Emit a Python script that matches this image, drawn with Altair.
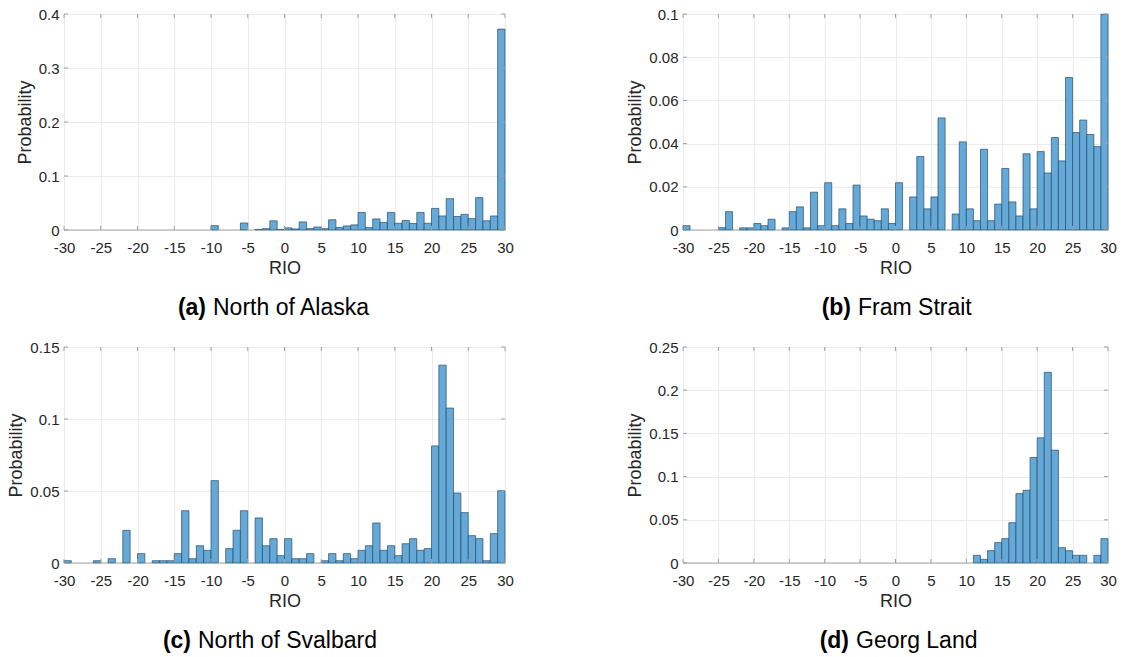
import altair as alt
import pandas as pd

# ---------------- data ----------------
bins = list(range(-30, 30))  # left edges of the 1-unit RIO bins

north_alaska = [0, 0, 0, 0, 0, 0, 0, 0, 0, 0,
                0, 0, 0, 0, 0, 0, 0, 0, 0, 0,
                0.008, 0, 0, 0, 0.013, 0, 0.001, 0.0025, 0.017, 0.001,
                0.004, 0.002, 0.015, 0.0025, 0.0055, 0.0025, 0.019, 0.0045, 0.0075, 0.0095,
                0.0325, 0.0045, 0.0205, 0.014, 0.0325, 0.0125, 0.0175, 0.012, 0.0325, 0.0125,
                0.04, 0.026, 0.058, 0.025, 0.029, 0.021, 0.06, 0.017, 0.026, 0.372]

fram_strait = [0.002, 0, 0, 0, 0, 0.0011, 0.0085, 0, 0.001, 0.001,
               0.003, 0.002, 0.005, 0, 0.001, 0.0085, 0.0107, 0.001, 0.0175, 0.002,
               0.0219, 0.002, 0.0098, 0.003, 0.0208, 0.0065, 0.005, 0.0043, 0.0098, 0.003,
               0.0219, 0, 0.0153, 0.034, 0.0098, 0.0153, 0.0519, 0, 0.0074, 0.0408,
               0.0098, 0.0043, 0.0374, 0.0043, 0.012, 0.0285, 0.013, 0.0065, 0.0353, 0.0098,
               0.0363, 0.0264, 0.0428, 0.032, 0.0706, 0.0451, 0.0509, 0.0442, 0.0386, 0.0999]

north_svalbard = [0.0016, 0, 0, 0, 0.0016, 0, 0.003, 0, 0.0227, 0,
                  0.0065, 0, 0.0016, 0.0016, 0.0016, 0.0065, 0.0363, 0.003, 0.012, 0.0088,
                  0.0572, 0, 0.01, 0.0227, 0.0363, 0, 0.0313, 0.012, 0.0169, 0.0051,
                  0.0169, 0.003, 0.003, 0.0065, 0, 0.0016, 0.0065, 0.0016, 0.0065, 0.003,
                  0.0088, 0.012, 0.0278, 0.0088, 0.012, 0.0051, 0.0134, 0.0169, 0.0088, 0.01,
                  0.0813, 0.1374, 0.1076, 0.0486, 0.035, 0.019, 0.0169, 0.0016, 0.0204, 0.0502]

georg_land = [0, 0, 0, 0, 0, 0, 0, 0, 0, 0,
              0, 0, 0, 0, 0, 0, 0, 0, 0, 0,
              0, 0, 0, 0, 0, 0, 0, 0, 0, 0,
              0, 0, 0, 0, 0, 0, 0, 0, 0, 0,
              0, 0.0089, 0.0042, 0.0143, 0.0236, 0.0282, 0.0467, 0.0803, 0.0842, 0.1221,
              0.1449, 0.2207, 0.1306, 0.0178, 0.0143, 0.0089, 0.0089, 0, 0.0089, 0.0282]

x_ticks = list(range(-30, 31, 5))
y_ticks_a = [0, 0.1, 0.2, 0.3, 0.4]
y_ticks_b = [0, 0.02, 0.04, 0.06, 0.08, 0.1]
y_ticks_c = [0, 0.05, 0.1, 0.15]
y_ticks_d = [0, 0.05, 0.1, 0.15, 0.2, 0.25]

tags = ["(a)", "(b)", "(c)", "(d)"]
names = ["North of Alaska", "Fram Strait", "North of Svalbard", "Georg Land"]

# ---------------- style ----------------
FONT = "Liberation Sans"
FRAME = "#a0a0a0"
TXT = "#262626"
FILL = "#64a9d8"
EDGE = "#2a4d66"
W1, W2, H = 441, 425, 216
LABEL_EXPR = "'' + datum.value"


def panel(values, yticks, W, tag, name, bold_right, text_left):
    df = pd.DataFrame({"bin_start": bins, "prob": values})
    xscale = alt.Scale(domain=[-30, 30], nice=False, zero=False)
    yscale = alt.Scale(domain=[0, yticks[-1]], nice=False)
    xaxis = alt.Axis(values=x_ticks, title="RIO", labelFlush=False,
                     labelOverlap=False, labelExpr=LABEL_EXPR, ticks=False,
                     domain=False, grid=True, gridColor="#ebebeb",
                     labelFontSize=15, labelColor=TXT, labelFont=FONT,
                     labelPadding=10, titleFont=FONT, titleFontSize=18,
                     titleColor=TXT, titleFontWeight="normal", titlePadding=4)
    yaxis = alt.Axis(values=yticks, title="Probability", labelFlush=False,
                     labelOverlap=False, labelExpr=LABEL_EXPR, ticks=False,
                     domain=False, grid=True, gridColor="#ebebeb",
                     labelFontSize=15, labelColor=TXT, labelFont=FONT,
                     labelPadding=5, titleFont=FONT, titleFontSize=18,
                     titleColor=TXT, titleFontWeight="normal",
                     titlePadding=4)

    bars = alt.Chart(df).transform_calculate(
        bin_end="datum.bin_start + 1"
    ).mark_rect(fill=FILL, strokeWidth=0.7).encode(
        x=alt.X("bin_start:Q", scale=xscale, axis=xaxis),
        x2="bin_end:Q",
        y=alt.Y("prob:Q", scale=yscale, axis=yaxis),
        y2=alt.datum(0),
        stroke=alt.condition("datum.prob > 0", alt.value(EDGE), alt.value("#b0b0b0")),
    )

    xt = pd.DataFrame({"bin_start": x_ticks})
    yt = pd.DataFrame({"prob": yticks})
    tick_style = dict(color=FRAME, strokeWidth=1)
    xb = alt.Chart(xt).mark_rule(**tick_style).encode(
        x=alt.X("bin_start:Q", scale=xscale, axis=xaxis), y=alt.value(H), y2=alt.value(H - 4))
    xtp = alt.Chart(xt).mark_rule(**tick_style).encode(
        x=alt.X("bin_start:Q", scale=xscale, axis=xaxis), y=alt.value(0), y2=alt.value(4))
    yl = alt.Chart(yt).mark_rule(**tick_style).encode(
        y=alt.Y("prob:Q", scale=yscale, axis=yaxis), x=alt.value(0), x2=alt.value(4))
    yr = alt.Chart(yt).mark_rule(**tick_style).encode(
        y=alt.Y("prob:Q", scale=yscale, axis=yaxis), x=alt.value(W), x2=alt.value(W - 4))

    cap = pd.DataFrame({"tag": [tag], "name": [name]})
    c1 = alt.Chart(cap).mark_text(align="right", baseline="middle", font=FONT,
                                  fontSize=23, fontWeight="bold", color="black").encode(
        text="tag:N", x=alt.value(bold_right), y=alt.value(H + 78))
    c2 = alt.Chart(cap).mark_text(align="left", baseline="middle", font=FONT,
                                  fontSize=23, color="black").encode(
        text="name:N", x=alt.value(text_left), y=alt.value(H + 78))

    return alt.layer(bars, xb, xtp, yl, yr, c1, c2).properties(width=W, height=H)


pa = panel(north_alaska, y_ticks_a, W1, tags[0], names[0], 142, 149)
pb = panel(fram_strait, y_ticks_b, W2, tags[1], names[1], 168, 175)
pc = panel(north_svalbard, y_ticks_c, W1, tags[2], names[2], 127, 134)
pd_ = panel(georg_land, y_ticks_d, W2, tags[3], names[3], 166, 173)

chart = alt.concat(
    pa, pb, pc, pd_, columns=2, bounds="flush",
    spacing=alt.RowColnumber(row=117, column=178),
).properties(
    padding={"left": 7, "top": 6, "right": 5, "bottom": 5},
    background="white",
).configure_view(stroke=FRAME, strokeWidth=1)

chart.save("out.html", embed_options={"renderer": "svg", "actions": False})
